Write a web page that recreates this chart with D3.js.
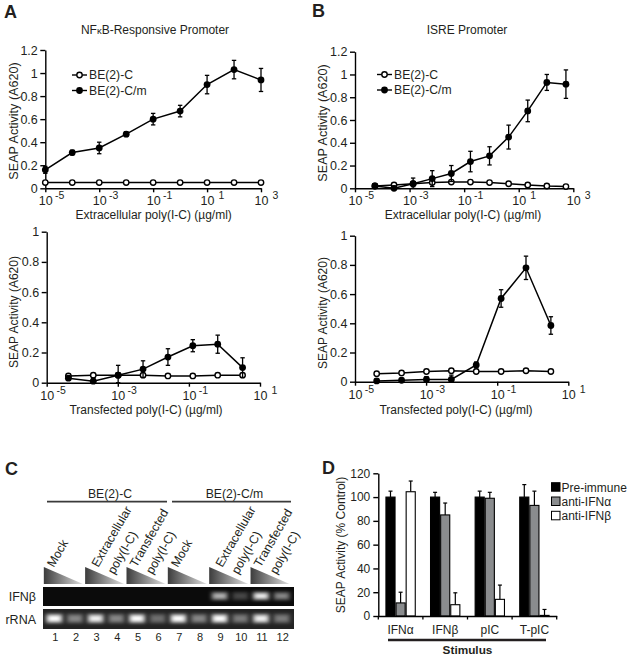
<!DOCTYPE html>
<html>
<head>
<meta charset="utf-8">
<style>
html, body { margin: 0; padding: 0; background: #fff; }
text { font-family: "Liberation Sans", Arial, sans-serif; fill: #231f20; }
</style>
<script src="https://cdnjs.cloudflare.com/ajax/libs/d3/7.8.5/d3.min.js"></script>
</head>
<body>
<div id="fig"></div>
<script>
// panel A top
var aTopDose = [-5, -4, -3, -2, -1, 0, 1, 2, 3];
var aTopMut = [0.16, 0.31, 0.35, 0.47, 0.60, 0.67, 0.90, 1.03, 0.94];
var aTopMutErr = [0.03, 0.02, 0.05, 0.02, 0.05, 0.05, 0.08, 0.08, 0.10];
var aTopWt = [0.05, 0.05, 0.05, 0.05, 0.05, 0.05, 0.05, 0.05, 0.05];
// panel B top
var bTopDose = [-4.27, -3.57, -2.87, -2.17, -1.47, -0.77, -0.07, 0.63, 1.33, 2.03, 2.73];
var bTopMut = [0.02, 0.0, 0.04, 0.085, 0.13, 0.235, 0.285, 0.45, 0.68, 0.93, 0.915];
var bTopMutErr = [0.02, 0.02, 0.05, 0.07, 0.07, 0.09, 0.08, 0.105, 0.095, 0.07, 0.125];
var bTopWt = [0.02, 0.03, 0.04, 0.05, 0.055, 0.055, 0.05, 0.04, 0.03, 0.02, 0.015];
// bottom panels share doses
var lowDose = [-4.39, -3.69, -2.99, -2.29, -1.59, -0.89, -0.19, 0.51];
var aLowMut = [0.03, 0.01, 0.05, 0.09, 0.17, 0.245, 0.255, 0.10];
var aLowMutErr = [0.01, 0.02, 0.065, 0.055, 0.055, 0.04, 0.06, 0.065];
var aLowWt = [0.045, 0.05, 0.05, 0.05, 0.045, 0.045, 0.05, 0.05];
var bLowMut = [0.005, 0.01, 0.015, 0.015, 0.115, 0.57, 0.78, 0.385];
var bLowMutErr = [0.01, 0.01, 0.02, 0.03, 0.02, 0.06, 0.08, 0.06];
var bLowWt = [0.055, 0.06, 0.07, 0.075, 0.07, 0.07, 0.075, 0.07];
// panel C
var lanes = d3.range(1, 13);
var ifnBand = [0, 0, 0, 0, 0, 0, 0, 0, 0.75, 0.35, 0.95, 0.6];
var rrnaBand = [1, 0.55, 0.95, 0.55, 1, 0.45, 1, 0.55, 1, 0.5, 0.95, 0.5];
var treatGroups = ["Mock", "Extracellular|poly(I-C)", "Transfected|poly(I-C)", "Mock", "Extracellular|poly(I-C)", "Transfected|poly(I-C)"];
// panel D
var stimuli = ["IFNα", "IFNβ", "pIC", "T-pIC"];
var antibodies = ["Pre-immune", "anti-IFNα", "anti-IFNβ"];
var abColors = ["#000000", "#8a8c8e", "#ffffff"];
var preImmune = [100, 100, 100, 100];
var preImmuneErr = [5, 4, 5, 10.5];
var antiA = [11, 85, 99, 93];
var antiAErr = [9, 10, 5, 12];
var antiB = [104.5, 9.5, 14, 0.5];
var antiBErr = [9, 10, 12, 5];

var w = 631, h = 659;
var svg = d3.select("#fig").append("svg")
    .attr("width", w)
    .attr("height", h)
    .style("display", "block");

var defs = svg.append("defs");
var soft = defs.append("filter").attr("id", "blur").attr("x", "-50%").attr("y", "-100%").attr("width", "200%").attr("height", "300%");
soft.append("feGaussianBlur").attr("stdDeviation", "2.2 1.5");
var triGrad = defs.append("linearGradient").attr("id", "tri");
triGrad.append("stop").attr("offset", "0%").attr("stop-color", "#3c3c3c");
triGrad.append("stop").attr("offset", "100%").attr("stop-color", "#e0e0e0");

function panelLetter(s, x, y) {
    svg.append("text").attr("x", x).attr("y", y).text(s)
        .style("font-size", "18px").style("font-weight", "bold");
}

function styleAxis(g) {
    g.selectAll("path, line").attr("stroke", "#000").attr("stroke-width", 1.4);
    g.selectAll("text").style("font-size", "12.5px").style("font-family", '"Liberation Sans", Arial, sans-serif').attr("fill", "#231f20");
}

function curvePanel(o) {
    var x = d3.scaleLinear().domain(o.xDomain).range([o.x0, o.x1]);
    var y = d3.scaleLinear().domain([0, o.yMax]).range([o.y0, o.y1]);
    var g = svg.append("g");

    var xAxis = g.append("g").attr("transform", "translate(0," + o.y0 + ")")
        .call(d3.axisBottom(x).tickValues(o.xTicks).tickSize(4).tickSizeOuter(0).tickPadding(5).tickFormat(function () { return ""; }));
    var yAxis = g.append("g").attr("transform", "translate(" + o.x0 + ",0)")
        .call(d3.axisLeft(y).tickValues(o.yTicks).tickSize(5).tickSizeOuter(0).tickPadding(2.5).tickFormat(function (d) { return d3.format("~g")(d); }));
    styleAxis(xAxis);
    styleAxis(yAxis);

    // 10^n labels
    xAxis.selectAll(".tick text").each(function (d) {
        var t = d3.select(this).attr("y", 0).attr("dy", null).style("font-size", "12.5px");
        t.append("tspan").attr("y", o.tickBase).text("10");
        t.append("tspan").attr("y", o.tickBase - 6).style("font-size", "10.5px").text(d);
    });

    var line = d3.line().x(function (d) { return x(d.x); }).y(function (d) { return y(d.y); });
    var wt = o.dose.map(function (d, i) { return { x: d, y: o.wt[i] }; });
    var mut = o.dose.map(function (d, i) { return { x: d, y: o.mut[i], e: o.err[i] }; });

    function errs(sel) {
        sel.append("line").attr("x1", function (d) { return x(d.x); }).attr("x2", function (d) { return x(d.x); })
            .attr("y1", function (d) { return y(Math.max(0, d.y - d.e)); }).attr("y2", function (d) { return y(d.y + d.e); });
        sel.append("line").attr("x1", function (d) { return x(d.x) - 2.2; }).attr("x2", function (d) { return x(d.x) + 2.2; })
            .attr("y1", function (d) { return y(d.y + d.e); }).attr("y2", function (d) { return y(d.y + d.e); });
        sel.append("line").attr("x1", function (d) { return x(d.x) - 2.2; }).attr("x2", function (d) { return x(d.x) + 2.2; })
            .attr("y1", function (d) { return y(Math.max(0, d.y - d.e)); }).attr("y2", function (d) { return y(Math.max(0, d.y - d.e)); });
    }

    g.append("path").datum(wt).attr("d", line).attr("fill", "none").attr("stroke", "#000").attr("stroke-width", 1.5);
    g.selectAll(".wt").data(wt).enter().append("circle").attr("class", "wt")
        .attr("cx", function (d) { return x(d.x); }).attr("cy", function (d) { return y(d.y); })
        .attr("r", 2.7).attr("fill", "#fff").attr("stroke", "#000").attr("stroke-width", 1.4);

    g.append("path").datum(mut).attr("d", line).attr("fill", "none").attr("stroke", "#000").attr("stroke-width", 1.5);
    g.selectAll(".eb").data(mut).enter().append("g").attr("class", "eb")
        .attr("stroke", "#000").attr("stroke-width", 1.3).call(errs);
    g.selectAll(".mut").data(mut).enter().append("circle").attr("class", "mut")
        .attr("cx", function (d) { return x(d.x); }).attr("cy", function (d) { return y(d.y); })
        .attr("r", 3.4).attr("fill", "#000");

    if (o.title) {
        svg.append("text").attr("x", o.titleX).attr("y", 34).attr("text-anchor", "middle")
            .style("font-size", "12px").html(o.title);
    }
    svg.append("text").attr("x", o.labelX).attr("y", o.labelY).attr("text-anchor", "middle")
        .style("font-size", "12px").text(o.xLabel);
    svg.append("text").attr("transform", "translate(" + o.ylabX + "," + o.ylabY + ") rotate(-90)")
        .attr("text-anchor", "middle").style("font-size", o.ylabSize + "px").text("SEAP Activity (A620)");

    if (o.legend) {
        [["BE(2)-C", true], ["BE(2)-C/m", false]].forEach(function (l, i) {
            var ly = o.legY + i * 15.5;
            svg.append("line").attr("x1", o.legX).attr("x2", o.legX + 15).attr("y1", ly).attr("y2", ly).attr("stroke", "#000").attr("stroke-width", 1.4);
            svg.append("circle").attr("cx", o.legX + 7.5).attr("cy", ly).attr("r", l[1] ? 2.7 : 3.4)
                .attr("fill", l[1] ? "#fff" : "#000").attr("stroke", "#000").attr("stroke-width", l[1] ? 1.4 : 0);
            svg.append("text").attr("x", o.legX + 17).attr("y", ly + 4.3).style("font-size", "12.2px").text(l[0]);
        });
    }
}

var topTicksY = [0, 0.2, 0.4, 0.6, 0.8, 1, 1.2];
var lowTicksY = [0, 0.2, 0.4, 0.6, 0.8, 1];
var xLabTop = "Extracellular poly(I-C) (µg/ml)";
var xLabLow = "Transfected poly(I-C) (µg/ml)";

curvePanel({ x0: 45.3, x1: 261, y0: 188.3, y1: 50, yMax: 1.2, xDomain: [-5, 3], xTicks: [-5, -3, -1, 1, 3], yTicks: topTicksY, tickBase: 16.7,
    dose: aTopDose, mut: aTopMut, err: aTopMutErr, wt: aTopWt, title: "NF<tspan style='font-size:9.5px'>κ</tspan>B-Responsive Promoter", titleX: 155,
    xLabel: xLabTop, labelX: 153.7, labelY: 218.5, ylabX: 18, ylabY: 121, ylabSize: 12.6, legend: true, legX: 72, legY: 75 });
curvePanel({ x0: 355, x1: 573.3, y0: 188.3, y1: 51.7, yMax: 1.2, xDomain: [-5, 3], xTicks: [-5, -3, -1, 1, 3], yTicks: topTicksY, tickBase: 16.7,
    dose: bTopDose, mut: bTopMut, err: bTopMutErr, wt: bTopWt, title: "ISRE Promoter", titleX: 467,
    xLabel: xLabTop, labelX: 463, labelY: 218.5, ylabX: 327, ylabY: 123, ylabSize: 12.6, legend: true, legX: 377, legY: 74.5 });
curvePanel({ x0: 46.7, x1: 260, y0: 382.7, y1: 231.7, yMax: 1, xDomain: [-5, 1], xTicks: [-5, -3, -1, 1], yTicks: lowTicksY, tickBase: 17.3,
    dose: lowDose, mut: aLowMut, err: aLowMutErr, wt: aLowWt,
    xLabel: xLabLow, labelX: 146, labelY: 413.5, ylabX: 18, ylabY: 312, ylabSize: 12 });
curvePanel({ x0: 355, x1: 568.3, y0: 381.7, y1: 235.7, yMax: 1, xDomain: [-5, 1], xTicks: [-5, -3, -1, 1], yTicks: lowTicksY, tickBase: 17.3,
    dose: lowDose, mut: bLowMut, err: bLowMutErr, wt: bLowWt,
    xLabel: xLabLow, labelX: 456, labelY: 413.5, ylabX: 327, ylabY: 313, ylabSize: 12 });

panelLetter("A", 4, 18);
panelLetter("B", 312, 17);
panelLetter("C", 5, 475);
panelLetter("D", 322, 474);

// panel C gel
var lane = d3.scaleLinear().domain([1, 12]).range([54.3, 281.7]);

[["BE(2)-C", 47, 167], ["BE(2)-C/m", 172, 291]].forEach(function (d) {
    svg.append("text").attr("x", (d[1] + d[2]) / 2 + 3).attr("y", 497.7).attr("text-anchor", "middle")
        .style("font-size", "12.2px").text(d[0]);
    svg.append("line").attr("x1", d[1]).attr("x2", d[2]).attr("y1", 501.7).attr("y2", 501.7)
        .attr("stroke", "#3a3a3a").attr("stroke-width", 1.8);
});

treatGroups.forEach(function (t, i) {
    var left = lane(i * 2 + 1) - 10.5, right = lane(i * 2 + 2) + 8;
    svg.append("path")
        .attr("d", d3.line()([[left, 567], [left, 584], [right, 584]]) + "Z")
        .attr("fill", "url(#tri)");
    var parts = t.split("|");
    var shift = t.charAt(0) == "E" ? 3 : 0;
    parts.forEach(function (p, j) {
        var tx = left + 10 + shift + j * 16, ty = 568 + j * 7;
        svg.append("text").attr("transform", "translate(" + tx + "," + ty + ") rotate(-60)")
            .style("font-size", "12.3px").text(p);
    });
});

function gel(name, y0, y1, bg, vals, bandH) {
    svg.append("rect").attr("x", 43).attr("y", y0).attr("width", 251).attr("height", y1 - y0).attr("fill", bg);
    var mid = (y0 + y1) / 2;
    var clip = "gelclip" + y0;
    defs.append("clipPath").attr("id", clip).append("rect").attr("x", 43).attr("y", y0).attr("width", 251).attr("height", y1 - y0);
    var bands = svg.append("g").attr("clip-path", "url(#" + clip + ")");
    // grey halo under each band
    bands.selectAll(".halo").data(vals).enter().append("rect").attr("class", "halo")
        .attr("x", function (d, i) { return lane(i + 1) - 8.5; })
        .attr("y", mid - bandH / 2 - 2.5)
        .attr("width", 17).attr("height", bandH + 4)
        .attr("fill", "#fff").attr("opacity", function (d) { return d * 0.4; })
        .attr("filter", "url(#blur)");
    bands.selectAll(".core").data(vals).enter().append("rect").attr("class", "core")
        .attr("x", function (d, i) { return lane(i + 1) - 6.5; })
        .attr("y", mid - bandH / 2 - 0.5)
        .attr("width", 13).attr("height", bandH)
        .attr("fill", "#fff").attr("opacity", function (d) { return d * d; })
        .attr("filter", "url(#blur)");
    svg.append("text").attr("x", 36).attr("y", mid + 4.5).attr("text-anchor", "end")
        .style("font-size", "12.5px").text(name);
}
gel("IFNβ", 587, 606, "#0b0b0b", ifnBand, 5);
gel("rRNA", 609, 629, "#232323", rrnaBand, 6);

svg.selectAll(".laneNum").data(lanes).enter().append("text").attr("class", "laneNum")
    .attr("x", function (d) { return lane(d) + 1; }).attr("y", 641).attr("text-anchor", "middle")
    .style("font-size", "11px").text(function (d) { return d; });

// panel D bars
var dX = d3.scaleBand().domain(stimuli).range([378.3, 556.7]).paddingInner(0.32).paddingOuter(0.16);
var dInner = d3.scaleBand().domain(antibodies).range([0, dX.bandwidth()]);
var dY = d3.scaleLinear().domain([0, 120]).range([616, 473.3]);
var dVals = [preImmune, antiA, antiB];
var dErrs = [preImmuneErr, antiAErr, antiBErr];

var dg = svg.append("g");
antibodies.forEach(function (ab, k) {
    stimuli.forEach(function (s, i) {
        var bx = dX(s) + dInner(ab), bw = dInner.bandwidth();
        var cx = bx + bw / 2, top = dY(dVals[k][i]), et = dY(dVals[k][i] + dErrs[k][i]);
        dg.append("line").attr("x1", cx).attr("x2", cx).attr("y1", top).attr("y2", et).attr("stroke", "#000").attr("stroke-width", 1.2);
        dg.append("line").attr("x1", cx - 2).attr("x2", cx + 2).attr("y1", et).attr("y2", et).attr("stroke", "#000").attr("stroke-width", 1.2);
        dg.append("rect").attr("x", bx + 0.5).attr("y", top).attr("width", bw - 1).attr("height", dY(0) - top)
            .attr("fill", abColors[k]).attr("stroke", "#000").attr("stroke-width", 1.1);
    });
});

var dyAxis = dg.append("g").attr("transform", "translate(378.3,0)")
    .call(d3.axisLeft(dY).tickValues([0, 20, 40, 60, 80, 100, 120]).tickSize(5).tickSizeOuter(0).tickPadding(3));
styleAxis(dyAxis);
dyAxis.selectAll("text").style("font-size", "12px");
var dxAxis = dg.append("g").attr("transform", "translate(0,616)")
    .call(d3.axisBottom(dX).tickSize(0).tickPadding(9));
styleAxis(dxAxis);
dxAxis.selectAll("text").style("font-size", "12px");
dg.selectAll(".dtick").data(d3.range(0, 5)).enter().append("line").attr("class", "dtick")
    .attr("x1", function (d) { return 378.3 + d * dX.step(); })
    .attr("x2", function (d) { return 378.3 + d * dX.step(); })
    .attr("y1", 616).attr("y2", 619.5).attr("stroke", "#000").attr("stroke-width", 1.3);

svg.append("text").attr("transform", "translate(345,545) rotate(-90)").attr("text-anchor", "middle")
    .style("font-size", "12px").text("SEAP Activity (% Control)");
svg.append("line").attr("x1", 388).attr("x2", 546).attr("y1", 640).attr("y2", 640).attr("stroke", "#231f20").attr("stroke-width", 2.4);
svg.append("text").attr("x", 467.5).attr("y", 654).attr("text-anchor", "middle")
    .style("font-size", "11.8px").style("font-weight", "bold").text("Stimulus");

antibodies.forEach(function (ab, k) {
    var ly = 482.7 + k * 14.3;
    svg.append("rect").attr("x", 551.5).attr("y", ly).attr("width", 8.5).attr("height", 8.5)
        .attr("fill", abColors[k]).attr("stroke", "#000").attr("stroke-width", 1);
    svg.append("text").attr("x", 561.5).attr("y", ly + 9).style("font-size", "12px").text(ab);
});
</script>
</body>
</html>
